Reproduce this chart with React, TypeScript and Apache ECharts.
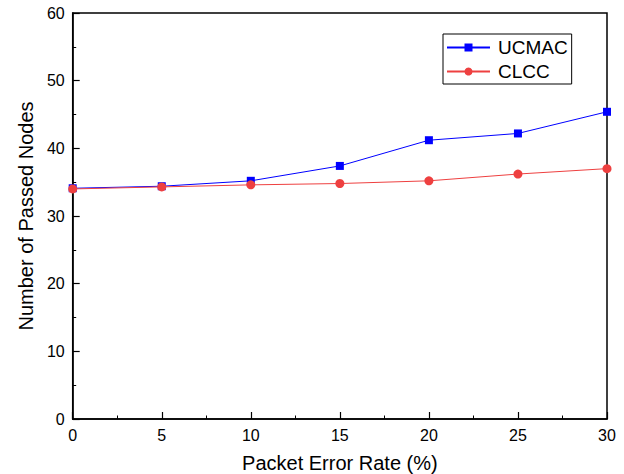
import React, { useEffect, useRef } from "react";
import * as echarts from "echarts";

const xValues = [0, 5, 10, 15, 20, 25, 30];
const ucmac = [34.1, 34.4, 35.2, 37.4, 41.2, 42.2, 45.4];
const clcc = [34.0, 34.3, 34.6, 34.8, 35.2, 36.2, 37.0];
const seriesNames = ["UCMAC", "CLCC"];

export default function App() {
  const ref = useRef<HTMLDivElement>(null);
  useEffect(() => {
    document.body.style.margin = "0";
    const chart = echarts.init(ref.current!, null, { renderer: "svg" });
    const font = "Arial, 'Liberation Sans', sans-serif";
    const axisCommon = {
      axisLine: { show: true, onZero: false, lineStyle: { color: "#000", width: 1.5 } },
      axisTick: { show: true, inside: true, length: 7, lineStyle: { color: "#000", width: 1.2 } },
      minorTick: { show: true, splitNumber: 2, length: 3.5, lineStyle: { color: "#000", width: 1 } },
      splitLine: { show: false },
      axisLabel: { color: "#000", fontSize: 16, fontFamily: font },
      nameTextStyle: { color: "#000", fontSize: 20, fontFamily: font },
    };
    chart.setOption({
      animation: false,
      backgroundColor: "#fff",
      grid: {
        left: 72.7, right: 17, top: 13, bottom: 55,
        outerBoundsMode: "none",
        containLabel: false,
        show: true, borderColor: "#000", borderWidth: 1.5, backgroundColor: "transparent",
      },
      legend: {
        orient: "vertical",
        left: 443,
        top: 34,
        borderColor: "#000",
        borderWidth: 1,
        padding: [4, 4, 3, 3],
        itemWidth: 43,
        itemHeight: 10,
        itemGap: 5,
        textStyle: { color: "#000", fontSize: 19, fontFamily: font, padding: [0, 0, 0, 3] },
        data: seriesNames,
      },
      xAxis: {
        type: "value",
        min: 0,
        max: 30,
        interval: 5,
        name: "Packet Error Rate (%)",
        nameLocation: "middle",
        nameGap: 34,
        ...axisCommon,
        axisLabel: { ...axisCommon.axisLabel, margin: 8 },
      },
      yAxis: {
        type: "value",
        min: 0,
        max: 60,
        interval: 10,
        name: "Number of Passed Nodes",
        nameLocation: "middle",
        nameGap: 35,
        ...axisCommon,
        axisLabel: { ...axisCommon.axisLabel, margin: 8 },
      },
      series: [
        {
          name: seriesNames[0],
          type: "line",
          data: xValues.map((x, i) => [x, ucmac[i]]),
          symbol: "rect",
          symbolSize: 8,
          lineStyle: { color: "#0000ff", width: 1 },
          itemStyle: { color: "#0000ff" },
        },
        {
          name: seriesNames[1],
          type: "line",
          data: xValues.map((x, i) => [x, clcc[i]]),
          symbol: "circle",
          symbolSize: 9,
          lineStyle: { color: "#ee4040", width: 1 },
          itemStyle: { color: "#ee4040" },
        },
      ],
    });
    return () => chart.dispose();
  }, []);
  return <div ref={ref} style={{ position: "absolute", left: 0, top: 0, width: 624, height: 474 }} />;
}
